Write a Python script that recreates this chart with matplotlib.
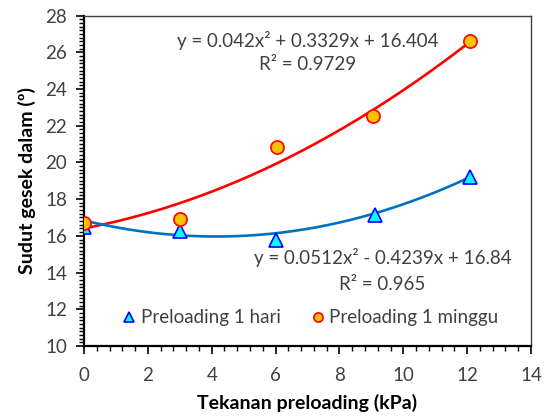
import numpy as np
import matplotlib
matplotlib.use("Agg")
import matplotlib.pyplot as plt
from matplotlib.ticker import MultipleLocator

# Measured friction angle vs preloading pressure
x_hari = [0, 3, 6, 9.1, 12.1]
y_hari = [16.5, 16.25, 15.8, 17.15, 19.2]
x_minggu = [0, 3, 6.05, 9.05, 12.1]
y_minggu = [16.7, 16.9, 20.85, 22.55, 26.6]

# Polynomial trendline coefficients (a, b, c) and R² values
coef_hari = [0.0512, -0.4239, 16.84]
coef_minggu = [0.042, 0.3329, 16.404]
r2_hari = 0.965
r2_minggu = 0.9729

plt.rcParams['font.family'] = ['Lato', 'DejaVu Sans']

fig = plt.figure(figsize=(5.48, 4.16), dpi=100)
ax = fig.add_axes([0.1533, 0.1683, 0.8157, 0.7944])

xs = np.linspace(0, 12.1, 200)
ax.plot(xs, np.polyval(coef_minggu, xs), color='#FF0000', lw=1.9, zorder=2)
ax.plot(xs, np.polyval(coef_hari, xs), color='#0070C0', lw=1.9, zorder=2)

ax.plot(x_hari, y_hari, linestyle='none', marker='^', markersize=9.5,
        markerfacecolor='#00FFFF', markeredgecolor='#0000FF', markeredgewidth=1.2,
        label='Preloading 1 hari', zorder=3)
ax.plot(x_minggu, y_minggu, linestyle='none', marker='o', markersize=9.5,
        markerfacecolor='#FFC000', markeredgecolor='#FF0000', markeredgewidth=1.2,
        label='Preloading 1 minggu', zorder=4)

ax.set_xlim(0, 14)
ax.set_ylim(10, 28)
ax.xaxis.set_major_locator(MultipleLocator(2))
ax.xaxis.set_minor_locator(MultipleLocator(0.4))
ax.yaxis.set_major_locator(MultipleLocator(2))
ax.yaxis.set_minor_locator(MultipleLocator(0.2))
ax.tick_params(which='major', direction='out', length=6, width=1.2,
               labelsize=13.5, colors='#000000', labelcolor='#404040')
ax.tick_params(axis='x', which='major', pad=9)
ax.tick_params(axis='y', which='major', pad=6)
ax.tick_params(which='minor', direction='out', length=3.5, width=1, colors='#000000')
for side in ['left', 'bottom']:
    ax.spines[side].set_linewidth(1.6)
    ax.spines[side].set_color('#000000')
for side in ['top', 'right']:
    ax.spines[side].set_linewidth(1.0)
    ax.spines[side].set_color('#404040')

ax.set_xlabel('Tekanan preloading (kPa)', fontsize=14, fontweight='bold', labelpad=7)
ax.set_ylabel('Sudut gesek dalam (º)', fontsize=14, fontweight='bold', labelpad=7)

ax.text(7.0, 26.64, 'y = %gx² + %gx + %g' % tuple(coef_minggu),
        ha='center', va='center', fontsize=13.5, color='#404040')
ax.text(7.0, 25.33, 'R² = %g' % r2_minggu,
        ha='center', va='center', fontsize=13.5, color='#404040')
ax.text(9.35, 14.8, 'y = %gx² - %gx + %g' % (coef_hari[0], -coef_hari[1], coef_hari[2]),
        ha='center', va='center', fontsize=13.5, color='#404040')
ax.text(9.35, 13.33, 'R² = %g' % r2_hari,
        ha='center', va='center', fontsize=13.5, color='#404040')

leg = ax.legend(loc='center', bbox_to_anchor=(0.505, 0.085), ncol=2, frameon=False,
                fontsize=13.5, markerscale=0.7, handletextpad=0.15, columnspacing=1.55,
                handlelength=0.9)
for t in leg.get_texts():
    t.set_color('#404040')

fig.savefig('out.png', dpi=100)
